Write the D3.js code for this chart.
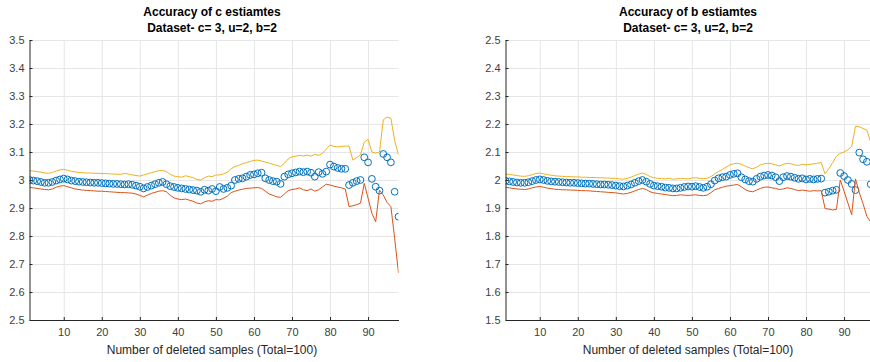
<!DOCTYPE html>
<html>
<head>
<meta charset="utf-8">
<script src="https://cdn.jsdelivr.net/npm/d3@7"></script>
<style>
  body { margin: 0; background: #fff; }
  svg { display: block; font-family: Arial, "Liberation Sans", Helvetica, sans-serif; }
  .grid line { stroke: #e6e6e6; stroke-width: 1; }
  .grid path { display: none; }
  .axis path, .axis line { stroke: #262626; }
  .axis text { fill: #404040; font-size: 11px; }
  .title { font-size: 12px; font-weight: bold; fill: #000; }
  .xlabel { font-size: 12px; fill: #262626; }
</style>
</head>
<body>
<svg id="MyGraph" width="870" height="362"></svg>
<script>
// number of deleted samples (x)
var deleted = [1,2,3,4,5,6,7,8,9,10,11,12,13,14,15,16,17,18,19,20,
  21,22,23,24,25,26,27,28,29,30,31,32,33,34,35,36,37,38,39,40,
  41,42,43,44,45,46,47,48,49,50,51,52,53,54,55,56,57,58,59,60,
  61,62,63,64,65,66,67,68,69,70,71,72,73,74,75,76,77,78,79,80,
  81,82,83,84,85,86,87,88,89,90,91,92,93,94,95,96,97,98];

var xTicks = [10,20,30,40,50,60,70,80,90];
var cTicks = [2.5,2.6,2.7,2.8,2.9,3,3.1,3.2,3.3,3.4,3.5];
var bTicks = [1.5,1.6,1.7,1.8,1.9,2,2.1,2.2,2.3,2.4,2.5];

// c estimates
var cMean = [3.000,2.998,2.996,2.993,2.990,2.990,2.993,2.998,3.002,3.005,
  3.002,2.998,2.996,2.994,2.993,2.992,2.991,2.990,2.990,2.989,
  2.988,2.987,2.986,2.986,2.985,2.984,2.985,2.983,2.980,2.976,
  2.970,2.975,2.980,2.985,2.990,2.993,2.985,2.978,2.975,2.972,
  2.970,2.968,2.966,2.964,2.962,2.958,2.965,2.962,2.968,2.960,
  2.975,2.968,2.972,2.980,3.000,3.004,3.006,3.012,3.018,3.020,
  3.024,3.026,3.006,3.000,2.996,2.994,2.986,3.012,3.020,3.024,
  3.027,3.030,3.028,3.030,3.026,3.012,3.028,3.022,3.030,3.055,
  3.048,3.043,3.040,3.040,2.982,2.990,2.996,3.000,3.081,3.063,
  3.004,2.976,2.962,3.093,3.081,3.063,2.958,2.869];
var cUpper = [3.033,3.032,3.030,3.028,3.025,3.024,3.027,3.032,3.036,3.038,
  3.035,3.031,3.029,3.027,3.026,3.025,3.025,3.024,3.024,3.023,
  3.023,3.022,3.021,3.021,3.020,3.024,3.021,3.018,3.016,3.014,
  3.018,3.022,3.026,3.030,3.033,3.034,3.030,3.020,3.014,3.012,
  3.010,3.015,3.012,3.008,3.002,3.000,3.008,3.014,3.012,3.018,
  3.018,3.022,3.028,3.040,3.048,3.052,3.058,3.062,3.066,3.070,
  3.071,3.068,3.064,3.060,3.056,3.052,3.048,3.060,3.075,3.083,
  3.085,3.088,3.086,3.089,3.085,3.092,3.088,3.095,3.110,3.125,
  3.120,3.118,3.120,3.121,3.121,3.071,3.080,3.090,3.135,3.145,
  3.100,3.096,3.100,3.215,3.225,3.220,3.140,3.090];
var cLower = [2.974,2.972,2.970,2.968,2.966,2.965,2.968,2.974,2.978,2.980,
  2.976,2.972,2.968,2.966,2.964,2.963,2.962,2.961,2.960,2.960,
  2.959,2.958,2.957,2.956,2.955,2.955,2.954,2.953,2.950,2.945,
  2.940,2.946,2.952,2.956,2.960,2.962,2.958,2.945,2.936,2.932,
  2.930,2.932,2.928,2.924,2.918,2.915,2.922,2.926,2.924,2.930,
  2.929,2.935,2.942,2.955,2.960,2.964,2.967,2.970,2.971,2.972,
  2.973,2.970,2.960,2.950,2.945,2.940,2.938,2.950,2.962,2.966,
  2.968,2.972,2.965,2.962,2.968,2.960,2.965,2.975,2.985,2.982,
  2.978,2.975,2.972,2.968,2.905,2.908,2.912,2.917,2.988,2.935,
  2.881,2.851,2.964,2.946,2.920,2.905,2.790,2.668];

// b estimates
var bMean = [1.997,1.995,1.993,1.991,1.990,1.990,1.992,1.996,2.000,2.002,
  2.000,1.997,1.995,1.994,1.993,1.992,1.991,1.990,1.990,1.989,
  1.988,1.987,1.987,1.986,1.985,1.984,1.984,1.983,1.982,1.980,
  1.978,1.977,1.980,1.984,1.990,1.996,2.000,1.994,1.986,1.980,
  1.978,1.976,1.973,1.972,1.970,1.970,1.972,1.975,1.977,1.976,
  1.978,1.975,1.972,1.976,1.985,1.998,2.006,2.010,2.012,2.018,
  2.022,2.024,2.010,2.002,1.996,1.994,2.004,2.012,2.016,2.018,
  2.016,2.010,1.996,2.010,2.014,2.012,2.008,2.004,2.006,2.002,
  2.004,2.002,2.004,2.005,1.955,1.958,1.962,1.965,2.025,2.014,
  2.000,1.986,1.964,2.098,2.074,2.065,1.985,1.950];
var bUpper = [2.021,2.020,2.018,2.016,2.014,2.013,2.015,2.019,2.023,2.025,
  2.022,2.019,2.017,2.015,2.014,2.013,2.012,2.012,2.011,2.011,
  2.010,2.010,2.009,2.009,2.008,2.008,2.007,2.007,2.006,2.006,
  2.004,2.003,2.006,2.010,2.016,2.021,2.025,2.020,2.012,2.008,
  2.006,2.005,2.004,2.006,2.003,2.004,2.006,2.005,2.004,2.007,
  2.008,2.006,2.005,2.006,2.012,2.022,2.030,2.038,2.046,2.054,
  2.058,2.060,2.056,2.050,2.044,2.040,2.046,2.054,2.058,2.060,
  2.058,2.054,2.050,2.056,2.060,2.058,2.054,2.052,2.056,2.054,
  2.056,2.058,2.060,2.062,2.022,2.040,2.062,2.085,2.095,2.100,
  2.108,2.120,2.192,2.190,2.184,2.178,2.135,2.100];
var bLower = [1.974,1.972,1.970,1.968,1.967,1.966,1.968,1.972,1.975,1.977,
  1.974,1.971,1.969,1.967,1.966,1.965,1.965,1.964,1.964,1.963,
  1.962,1.962,1.961,1.960,1.959,1.958,1.957,1.956,1.955,1.954,
  1.952,1.950,1.952,1.956,1.961,1.966,1.970,1.966,1.958,1.954,
  1.952,1.950,1.948,1.946,1.944,1.945,1.947,1.946,1.945,1.946,
  1.947,1.945,1.944,1.946,1.955,1.965,1.970,1.974,1.978,1.980,
  1.982,1.984,1.976,1.966,1.960,1.958,1.964,1.970,1.974,1.975,
  1.972,1.970,1.966,1.968,1.972,1.970,1.966,1.962,1.964,1.962,
  1.960,1.962,1.961,1.962,1.898,1.896,1.893,1.895,2.000,1.960,
  1.918,1.876,2.004,1.955,1.915,1.870,1.850,1.840];

var svg = d3.select("#MyGraph");

function drawPanel(opt){

  var top = 40, bottom = 320, plotW = 369;

  var x = d3.scaleLinear().domain([1, 98]).range([opt.left, opt.left + plotW]);
  var y = d3.scaleLinear().domain([opt.ticks[0], opt.ticks[opt.ticks.length - 1]]).range([bottom, top]);

  var g = svg.append("g");

  // グリッド
  g.append("g")
      .attr("class", "grid")
      .attr("transform", "translate(0," + bottom + ")")
      .call(d3.axisBottom(x).tickValues(xTicks).tickSize(-(bottom - top)).tickFormat(""));
  g.append("g")
      .attr("class", "grid")
      .attr("transform", "translate(" + opt.left + ",0)")
      .call(d3.axisLeft(y).tickValues(opt.ticks).tickSize(-plotW).tickFormat(""));

  g.append("clipPath").attr("id", opt.id + "clip")
    .append("rect")
      .attr("x", opt.left).attr("y", top)
      .attr("width", plotW).attr("height", bottom - top);

  var area = g.append("g").attr("clip-path", "url(#" + opt.id + "clip)");

  var rows = deleted.map(function(d, i){
    return {n: d, mean: opt.mean[i], lower: opt.lower[i], upper: opt.upper[i]};
  });

  // 平均（丸）
  area.selectAll("circle")
      .data(rows)
      .enter()
      .append("circle")
      .attr("r", 3.4)
      .attr("fill", "none")
      .attr("stroke", "#0072BD")
      .attr("stroke-width", 1)
      .attr("cx", function(d){ return x(d.n); })
      .attr("cy", function(d){ return y(d.mean); });

  // 下限・上限
  var lineLo = d3.line().x(function(d){ return x(d.n); }).y(function(d){ return y(d.lower); });
  var lineUp = d3.line().x(function(d){ return x(d.n); }).y(function(d){ return y(d.upper); });

  area.append("path").datum(rows)
      .attr("fill", "none").attr("stroke", "#D95319").attr("stroke-width", 1)
      .attr("d", lineLo);
  area.append("path").datum(rows)
      .attr("fill", "none").attr("stroke", "#EDB120").attr("stroke-width", 1)
      .attr("d", lineUp);

  // X軸
  g.append("g")
      .attr("class", "axis")
      .attr("transform", "translate(0," + bottom + ")")
      .call(d3.axisBottom(x).tickValues(xTicks).tickSizeInner(-3).tickSizeOuter(0).tickPadding(8));

  // Y軸
  g.append("g")
      .attr("class", "axis")
      .attr("transform", "translate(" + opt.left + ",0)")
      .call(d3.axisLeft(y).tickValues(opt.ticks).tickSizeInner(-3).tickSizeOuter(0).tickPadding(5)
          .tickFormat(function(d){ return String(+d.toFixed(1)); }));

  var cx = opt.left + plotW / 2 - 2;
  g.append("text").attr("class", "title").attr("text-anchor", "middle")
      .attr("x", cx).attr("y", 16).text(opt.title);
  g.append("text").attr("class", "title").attr("text-anchor", "middle")
      .attr("x", cx).attr("y", 32).text("Dataset- c= 3, u=2, b=2");
  g.append("text").attr("class", "xlabel").attr("text-anchor", "middle")
      .attr("x", cx).attr("y", 354).text("Number of deleted samples (Total=100)");
}

drawPanel({id: "c", left: 29.5, ticks: cTicks, mean: cMean, lower: cLower, upper: cUpper,
  title: "Accuracy of c estiamtes"});
drawPanel({id: "b", left: 505.5, ticks: bTicks, mean: bMean, lower: bLower, upper: bUpper,
  title: "Accuracy of b estiamtes"});
</script>
</body>
</html>
